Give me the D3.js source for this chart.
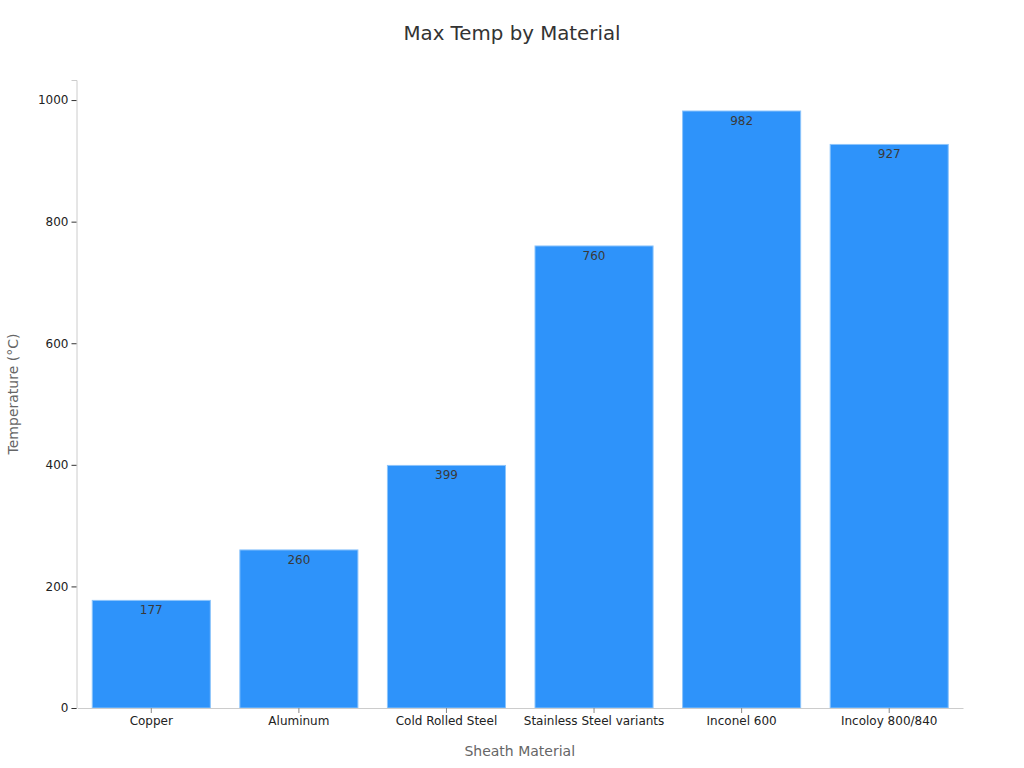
<!DOCTYPE html>
<html><head><meta charset="utf-8">
<script src="https://cdn.jsdelivr.net/npm/d3@7"></script>
<style>body{margin:0;background:#fff;font-family:"DejaVu Sans",sans-serif;}</style>
</head><body>
<svg id="c" width="1024" height="768"></svg>
<script>
const categories = ["Copper","Aluminum","Cold Rolled Steel","Stainless Steel variants","Inconel 600","Incoloy 800/840"];
const values = [177,260,399,760,982,927];
const yTicks = [0,200,400,600,800,1000];

const svg = d3.select("#c");
const m = {l:76.5, r:61, t:80, b:60};
const W = 1024, H = 768;
const x = d3.scaleBand().domain(categories).range([m.l+1, W-m.r]).paddingInner(0.2).paddingOuter(0.1);
const y = d3.scaleLinear().domain([0,1033]).range([H-m.b, m.t]);

svg.append("text").attr("x",512).attr("y",40).attr("text-anchor","middle")
  .attr("font-size",19.8).attr("fill","#333").text("Max Temp by Material");

svg.append("g").selectAll("rect").data(values).join("rect")
  .attr("x",(d,i)=>x(categories[i])).attr("y",d=>y(d))
  .attr("width",x.bandwidth()).attr("height",d=>y(0)-y(d))
  .attr("fill","#2e93fa").attr("stroke","#8cc4fb").attr("stroke-width",1);

svg.append("g").selectAll("text").data(values).join("text")
  .attr("x",(d,i)=>x(categories[i])+x.bandwidth()/2).attr("y",d=>y(d)+14)
  .attr("text-anchor","middle").attr("font-size",12).attr("fill","#3a3a3a").text(d=>d);

const ya = svg.append("g").attr("transform",`translate(${m.l},0)`)
  .call(d3.axisLeft(y).tickValues(yTicks).tickFormat(d3.format("d")).tickSize(5).tickPadding(3));
ya.select(".domain").attr("stroke","#ccc");
ya.selectAll(".tick line").attr("stroke","#333");
ya.selectAll(".tick text").attr("font-size",12).attr("fill","#222").attr("font-family","DejaVu Sans");

const xa = svg.append("g").attr("transform",`translate(0,${H-m.b})`)
  .call(d3.axisBottom(x).tickSize(5).tickPadding(3).tickSizeOuter(0));
xa.select(".domain").attr("stroke","#ccc");
xa.selectAll(".tick line").attr("stroke","#888");
xa.selectAll(".tick text").attr("font-size",12).attr("fill","#222").attr("font-family","DejaVu Sans");

svg.append("text").attr("x",(m.l+W-m.r)/2).attr("y",756).attr("text-anchor","middle")
  .attr("font-size",14).attr("fill","#666").text("Sheath Material");
svg.append("text").attr("transform",`translate(18,${(m.t+H-m.b)/2}) rotate(-90)`).attr("text-anchor","middle")
  .attr("font-size",14).attr("fill","#666").text("Temperature (°C)");
</script>
</body></html>
